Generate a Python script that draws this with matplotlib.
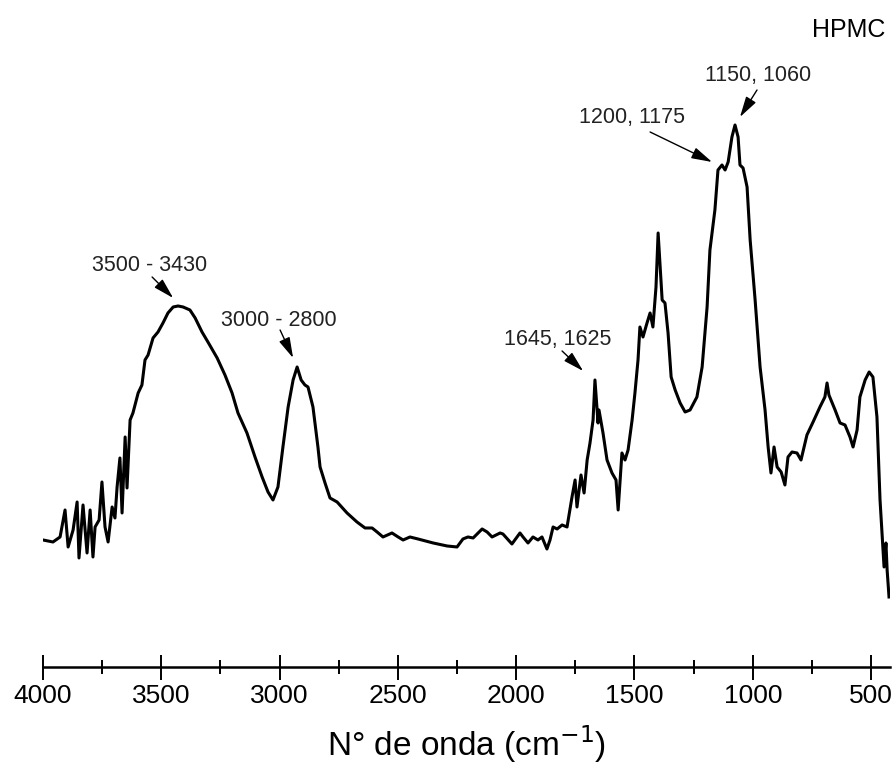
import numpy as np
import matplotlib
matplotlib.use("Agg")
import matplotlib.pyplot as plt
from matplotlib.ticker import MultipleLocator

plt.rcParams["font.family"] = ["Liberation Sans", "DejaVu Sans"]

# FTIR spectrum of HPMC (arbitrary units)
wavenumber = [4000, 3958, 3928, 3907, 3894, 3873, 3856, 3848, 3831, 3814,
              3801, 3789, 3780, 3763, 3751, 3738, 3725, 3708, 3696, 3687,
              3675, 3666, 3653, 3645, 3632, 3620, 3598, 3582, 3569, 3556,
              3535, 3514, 3493, 3472, 3450, 3429, 3408, 3379, 3357, 3328,
              3303, 3264, 3231, 3201, 3176, 3138, 3104, 3074, 3049, 3028,
              3007, 2986, 2964, 2943, 2926, 2909, 2893, 2880, 2859, 2838,
              2829, 2808, 2787, 2757, 2715, 2673, 2639, 2609, 2588, 2563,
              2525, 2499, 2478, 2449, 2415, 2351, 2292, 2250, 2225, 2204,
              2182, 2144, 2123, 2102, 2068, 2056, 2018, 1984, 1971, 1950,
              1929, 1908, 1891, 1870, 1857, 1844, 1827, 1806, 1785, 1764,
              1751, 1743, 1726, 1713, 1700, 1688, 1675, 1667, 1654, 1650,
              1633, 1616, 1595, 1578, 1569, 1553, 1540, 1527, 1510, 1498,
              1485, 1477, 1464, 1447, 1434, 1422, 1409, 1400, 1383, 1371,
              1358, 1345, 1328, 1307, 1286, 1265, 1236, 1214, 1193, 1181,
              1160, 1147, 1130, 1117, 1104, 1088, 1075, 1062, 1054, 1041,
              1024, 1011, 990, 969, 948, 935, 923, 910, 897, 880,
              864, 851, 834, 813, 796, 771, 745, 716, 695, 686,
              678, 652, 631, 610, 589, 576, 559, 547, 525, 508,
              492, 475, 462, 449, 445, 437, 432, 424]
intensity = [127, 125, 130, 157, 120, 137, 165, 109, 162, 114,
             157, 110, 140, 147, 185, 140, 125, 160, 149, 180,
             209, 154, 230, 179, 247, 254, 274, 282, 307, 312,
             329, 335, 344, 354, 360, 361, 360, 357, 349, 335,
             325, 309, 292, 274, 254, 234, 210, 190, 175, 167,
             180, 220, 260, 287, 300, 287, 282, 280, 260, 220,
             200, 184, 169, 165, 154, 145, 139, 139, 135, 130,
             134, 130, 127, 130, 128, 124, 121, 120, 128, 130,
             129, 138, 135, 130, 134, 133, 123, 134, 130, 124,
             130, 127, 130, 118, 127, 140, 138, 142, 140, 170,
             187, 160, 192, 174, 207, 224, 247, 287, 244, 257,
             234, 207, 194, 187, 157, 214, 207, 217, 247, 274,
             307, 340, 330, 344, 354, 340, 380, 434, 367, 364,
             334, 290, 277, 264, 255, 257, 270, 300, 360, 417,
             457, 497, 502, 497, 505, 530, 542, 530, 502, 499,
             480, 427, 367, 300, 257, 220, 194, 220, 200, 195,
             182, 210, 215, 214, 207, 232, 245, 260, 270, 284,
             272, 257, 244, 242, 230, 220, 237, 270, 287, 295,
             290, 250, 167, 117, 100, 124, 97, 70]

# peak labels: text, text position, arrow start, arrow tip
labels = ["3500 - 3430", "3000 - 2800", "1645, 1625", "1200, 1175", "1150, 1060"]
label_pos = [(3550, 401), (3002, 346), (1823, 327), (1510, 549), (978, 591)]
arrow_from = [(3539, 390), (2998, 337), (1806, 316), (1434, 535), (982, 577)]
arrow_to = [(3450, 369), (2943, 309), (1717, 296), (1172, 505), (1054, 550)]

fig = plt.figure(figsize=(8.93, 7.78), dpi=100)
ax = fig.add_axes([0.0482, 0.1427, 0.9484, 0.8573])

ax.plot(wavenumber, intensity, color="black", lw=2.2)

for txt, tp, a0, a1 in zip(labels, label_pos, arrow_from, arrow_to):
    ax.text(tp[0], tp[1], txt, fontsize=15.5, ha="center", va="center", color="#222222")
    ax.annotate("", xy=a1, xytext=a0,
                arrowprops=dict(arrowstyle="-|>,head_length=0.9,head_width=0.25",
                                color="black", lw=1.0, mutation_scale=14,
                                shrinkA=0, shrinkB=0))

ax.set_xlim(4000, 420)
ax.set_ylim(0, 667)
for s in ["left", "right", "top"]:
    ax.spines[s].set_visible(False)
ax.spines["bottom"].set_linewidth(1.8)
ax.set_yticks([])
ax.xaxis.set_major_locator(MultipleLocator(500))
ax.xaxis.set_minor_locator(MultipleLocator(250))
ax.tick_params(axis="x", which="major", direction="inout", length=18, width=1.4,
               labelsize=19, pad=3)
ax.tick_params(axis="x", which="minor", direction="inout", length=10, width=1.4)
ax.set_xlabel("N° de onda (cm$^{-1}$)", fontsize=24, labelpad=11)

fig.text(885 / 893, 1 - 30 / 778, "HPMC", fontsize=18, ha="right", va="center")

fig.savefig("out.png", dpi=100)
